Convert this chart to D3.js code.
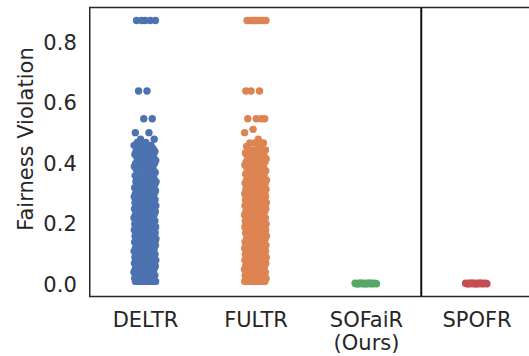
<!DOCTYPE html>
<html>
<head>
<meta charset="utf-8">
<script src="https://cdn.jsdelivr.net/npm/d3@7"></script>
<style>
  html, body { margin: 0; padding: 0; background: #fff; }
  svg { display: block; font-family: "DejaVu Sans", sans-serif; }
</style>
</head>
<body>
<svg id="chart" width="529" height="356"></svg>
<script>
// ---- data ----
const categories = ["DELTR", "FULTR", "SOFaiR\n(Ours)", "SPOFR"];
const yTicks = [0.0, 0.2, 0.4, 0.6, 0.8];
const yLabel = "Fairness Violation";

// values and how many points sit at each value (frequency table)
const deltrValues = [0.873, 0.640, 0.548, 0.502, 0.480, 0.470, 0.460, 0.450, 0.440, 0.430, 0.420, 0.410, 0.400, 0.390, 0.380, 0.370, 0.360, 0.350, 0.340, 0.330, 0.320, 0.310,
  0.300, 0.290, 0.280, 0.270, 0.260, 0.250, 0.240, 0.230, 0.220, 0.210, 0.200, 0.190, 0.180, 0.170, 0.160, 0.150, 0.140, 0.130, 0.120, 0.110, 0.100, 0.090, 0.080, 0.070, 0.060, 0.050, 0.040, 0.030, 0.020, 0.010];
const deltrCounts = [5, 2, 2, 2, 2, 2, 3, 4, 5, 5, 5, 5, 6, 6, 5, 2, 5, 6, 6, 5, 4, 7,
  8, 8, 8, 8, 8, 8, 8, 8, 8, 8, 8, 8, 8, 8, 8, 8, 8, 8, 8, 8, 8, 8, 8, 8, 8, 8, 8, 8, 8, 9];

const fultrValues = [0.873, 0.640, 0.548, 0.513, 0.502, 0.480, 0.468, 0.456, 0.445, 0.435, 0.425, 0.415, 0.405, 0.395, 0.385, 0.375, 0.365, 0.355, 0.345, 0.335, 0.325, 0.315,
  0.300, 0.290, 0.280, 0.270, 0.260, 0.250, 0.240, 0.230, 0.220, 0.210, 0.200, 0.190, 0.180, 0.170, 0.160, 0.150, 0.140, 0.130, 0.120, 0.110, 0.100, 0.090, 0.080, 0.070, 0.060, 0.050, 0.040, 0.030, 0.020, 0.010];
const fultrCounts = [9, 3, 4, 1, 1, 1, 3, 2, 3, 4, 5, 5, 6, 6, 6, 3, 4, 6, 7, 7, 7, 8,
  8, 8, 8, 8, 8, 8, 8, 8, 8, 8, 8, 8, 8, 8, 8, 8, 8, 8, 8, 8, 8, 8, 8, 8, 8, 8, 8, 8, 8, 9];

const sofairValues = [0.002, 0.004];
const sofairCounts = [10, 10];

const spofrValues = [0.002, 0.004];
const spofrCounts = [10, 10];

const colors = ["#4c72b0", "#dd8452", "#55a868", "#c44e52"];

// ---- layout ----
const svg = d3.select("#chart");
const plotLeft = 89.75, plotTop = 7.5, plotBottom = 296.5;
const step = 110.5;
const plotRight = plotLeft + step * categories.length;
const fontSize = 21;

const x = d3.scalePoint().domain(categories).range([plotLeft, plotRight]).padding(0.5);
const y = d3.scaleLinear().domain([-0.04, 0.916]).range([plotBottom, plotTop]);
const color = d3.scaleOrdinal(categories, colors);

// expand frequency tables into points
const series = [
  [categories[0], deltrValues, deltrCounts],
  [categories[1], fultrValues, fultrCounts],
  [categories[2], sofairValues, sofairCounts],
  [categories[3], spofrValues, spofrCounts]
];
const points = [];
series.forEach(([cat, vals, counts]) => {
  let idx = 0;
  vals.forEach((v, k) => {
    for (let c = 0; c < counts[k]; c++) {
      points.push({ cat, value: v, idx: idx++ });
    }
  });
});
// deterministic jitter (±0.1 category width), positional only
const jitter = i => ((i * 0.6180339887 + 0.5) % 1) * 2 - 1;

svg.append("g")
  .selectAll("circle")
  .data(points)
  .join("circle")
  .attr("cx", d => x(d.cat) + jitter(d.idx) * 0.1 * x.step())
  .attr("cy", d => y(d.value))
  .attr("r", 3.7)
  .attr("fill", d => color(d.cat));

// frame
svg.append("rect")
  .attr("x", plotLeft).attr("y", plotTop)
  .attr("width", plotRight - plotLeft).attr("height", plotBottom - plotTop)
  .attr("fill", "none").attr("stroke", "#262626").attr("stroke-width", 1.5);

// separator between SOFaiR and SPOFR
const sepX = (x(categories[2]) + x(categories[3])) / 2;
svg.append("line")
  .attr("x1", sepX).attr("x2", sepX)
  .attr("y1", plotTop).attr("y2", plotBottom)
  .attr("stroke", "#111").attr("stroke-width", 2);

// y axis
const yAxis = svg.append("g")
  .attr("transform", `translate(${plotLeft},0)`)
  .call(d3.axisLeft(y).tickValues(yTicks).tickFormat(d3.format(".1f")).tickSize(0).tickPadding(13));
yAxis.select(".domain").remove();
yAxis.selectAll("text").attr("font-size", fontSize).attr("fill", "#262626").attr("font-family", "DejaVu Sans");

// x axis
const xAxis = svg.append("g")
  .attr("transform", `translate(0,${plotBottom})`)
  .call(d3.axisBottom(x).tickSize(0).tickPadding(15.5));
xAxis.select(".domain").remove();
xAxis.selectAll("text")
  .attr("font-size", fontSize).attr("fill", "#262626").attr("font-family", "DejaVu Sans")
  .each(function(d) {
    const t = d3.select(this);
    const lines = d.split("\n");
    t.text(null);
    lines.forEach((ln, i) => {
      t.append("tspan").attr("x", 0).attr("dy", i === 0 ? "0.71em" : "1.12em").text(ln);
    });
  })
  .attr("dy", null);

// y label
svg.append("text")
  .attr("transform", "translate(33,139) rotate(-90)")
  .attr("text-anchor", "middle")
  .attr("font-size", fontSize)
  .attr("fill", "#262626")
  .text(yLabel);
</script>
</body>
</html>
